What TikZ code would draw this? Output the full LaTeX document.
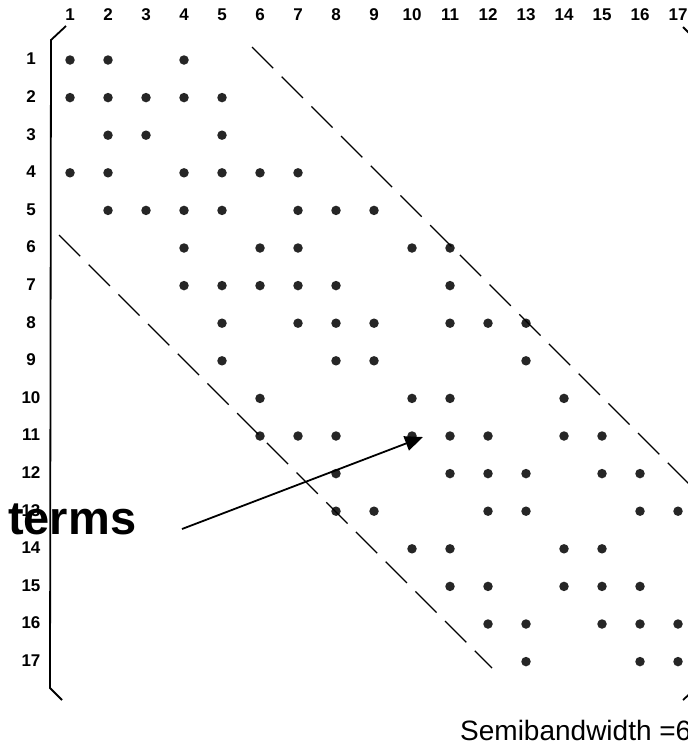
\documentclass[tikz,border=0pt]{standalone}
\usepackage{fontspec}
\setmainfont{Liberation Sans}
\usetikzlibrary{arrows.meta}

\begin{document}
\begin{tikzpicture}[
        x=1pt, y=-1pt,
        entry/.style={circle, fill=black!85, inner sep=0pt, minimum size=9.5pt},
        idx/.style={font=\bfseries\fontsize{17}{17}\selectfont, inner sep=0pt},
        band/.style={line width=1.4pt, dash pattern=on 30pt off 12pt},
        brace/.style={line width=1.8pt}
    ]
        \useasboundingbox (0,0) rectangle (688,745);
        \clip (0,0) rectangle (688,745);

        % Indices
        \foreach \i in {1,...,17} {
            \node[idx] (col\i) at ({70+38*(\i-1)}, 15) {\i};
            \node[idx] (row\i) at (31, {59+37.6*(\i-1)}) {\i};
        }

        % Matrix brackets
        \draw[brace] (66,26) -- (51,40) -- (50,688) -- (62,700);
        \draw[brace] (683,27) -- (696,40) -- (696,688) -- (683,700);

        % Nonzero entries
        \foreach \r/\cols in {1/{1,2,4}, 2/{1,2,3,4,5}, 3/{2,3,5}, 4/{1,2,4,5,6,7},
                5/{2,3,4,5,7,8,9}, 6/{4,6,7,10,11}, 7/{4,5,6,7,8,11},
                8/{5,7,8,9,11,12,13}, 9/{5,8,9,13}, 10/{6,10,11,14},
                11/{6,7,8,10,11,12,14,15}, 12/{8,11,12,13,15,16},
                13/{8,9,12,13,16,17}, 14/{10,11,14,15}, 15/{11,12,14,15,16},
                16/{12,13,15,16,17}, 17/{13,16,17}} {
            \foreach \c in \cols {
                \node[entry] (e\r-\c) at ({70+38*(\c-1)}, {60+37.6*(\r-1)}) {};
            }
        }

        % Band limits
        \draw[band] (252,47) -- (700,495);
        \draw[band] (59,235) -- (492,668);

        % Labels
        \node[font=\bfseries\fontsize{47}{47}\selectfont, anchor=base west, inner sep=0pt] (terms) at (8,534) {terms};
        \node[font=\fontsize{28}{28}\selectfont, anchor=base west, inner sep=0pt] (sbw) at (460,740) {Semibandwidth =6};

        % Arrow
        \coordinate (tail) at (182,529);
        \coordinate (tip) at (423,437);
        \draw[-{Triangle[length=18pt,width=15pt]}, line width=1.8pt] (tail) -- (tip);

    \end{tikzpicture}
\end{document}
